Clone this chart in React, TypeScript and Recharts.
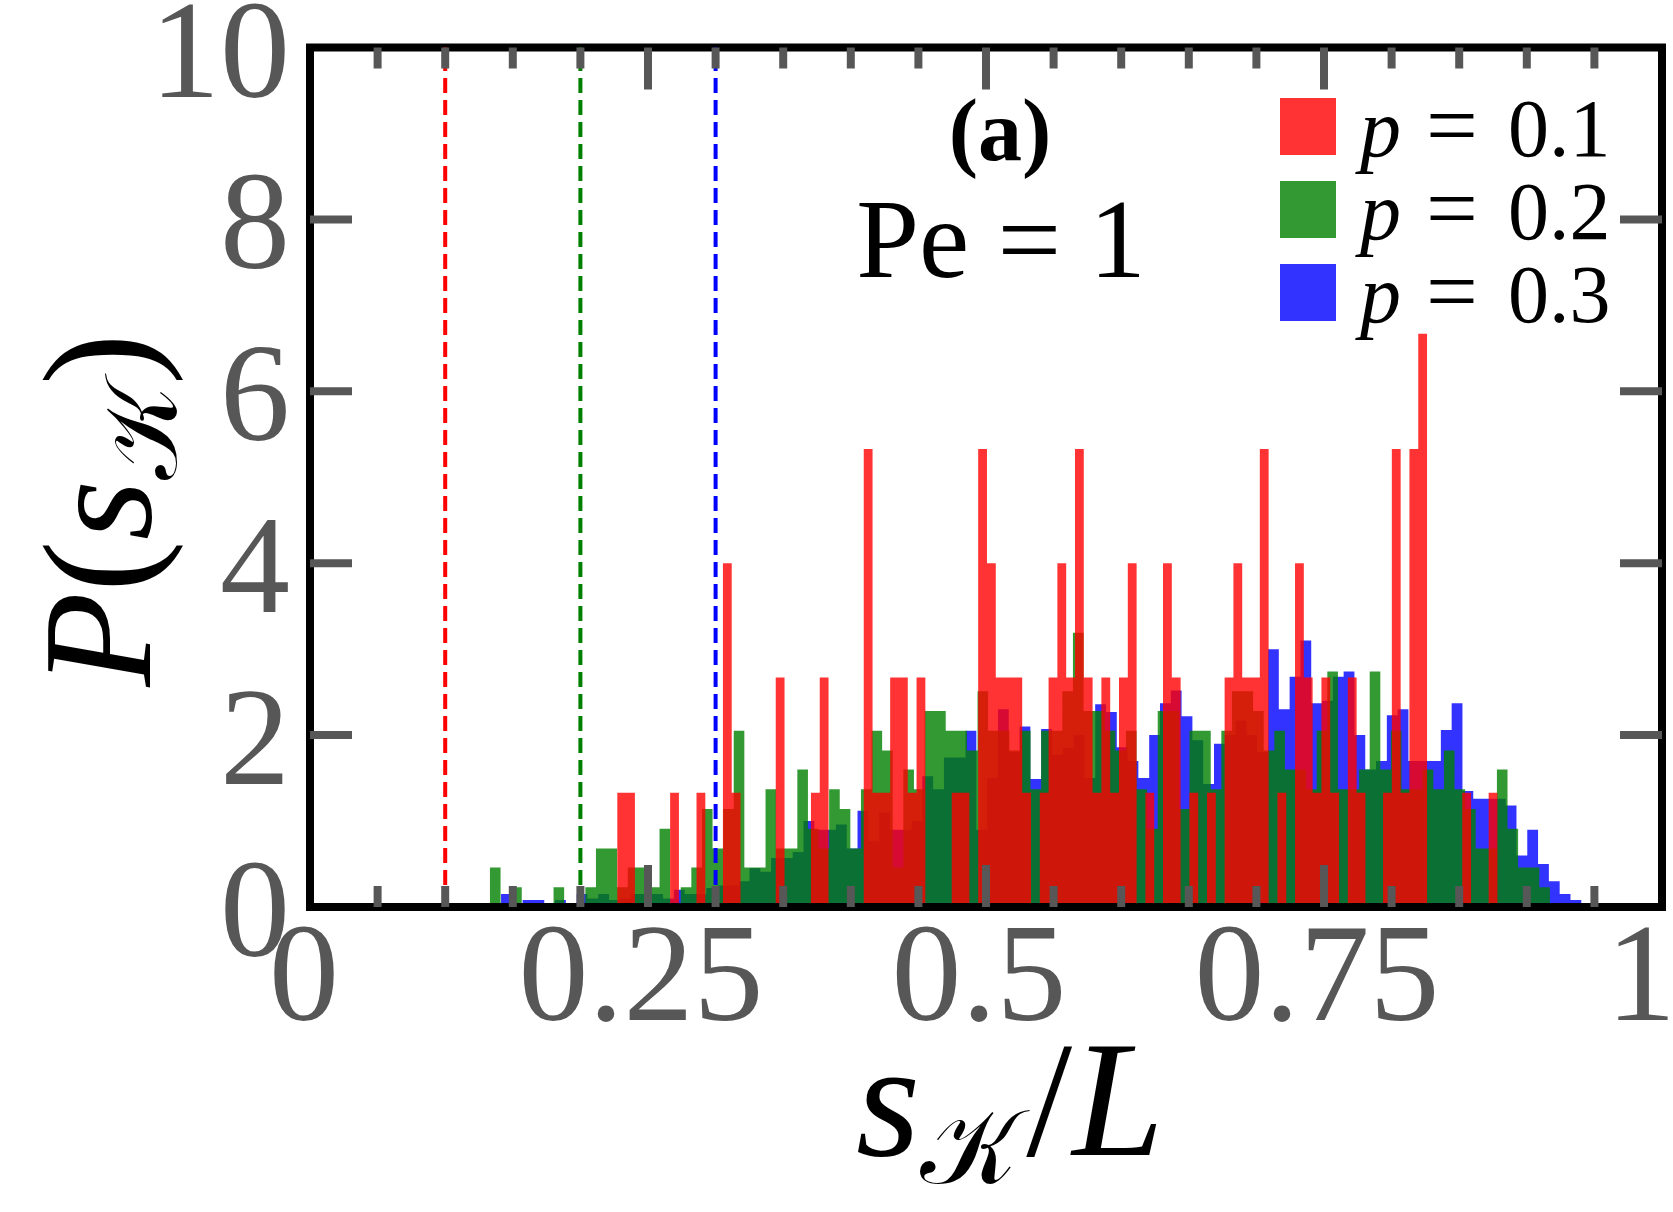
import {
  ComposedChart,
  Area,
  XAxis,
  YAxis,
  ReferenceLine,
  ReferenceArea,
  Legend,
} from "recharts";

// ---- axes -----------------------------------------------------------------
const xTicks = [
  0, 0.05, 0.1, 0.15, 0.2, 0.25, 0.3, 0.35, 0.4, 0.45, 0.5,
  0.55, 0.6, 0.65, 0.7, 0.75, 0.8, 0.85, 0.9, 0.95, 1,
];
const xMajor = [0, 0.25, 0.5, 0.75, 1];
const xLabels = ["0", "0.25", "0.5", "0.75", "1"];
const yTicks = [0, 2, 4, 6, 8, 10];
const yLabels = ["0", "2", "4", "6", "8", "10"];

// dashed markers, one per p
const thresholds = [0.1, 0.2, 0.3];
const pValues = ["0.1", "0.2", "0.3"];
const colors = ["#ff0000", "#008000", "#0000ff"];

// ---- histograms (100 bins each, own range) --------------------------------
const redStart = 0.2273;
const redBinWidth = 0.00651;
const redHeights = [
  1.33, 1.33, 0, 0, 0, 0, 1.33, 0, 0, 1.33,
  0, 0, 4, 1.33, 0, 0, 0, 0, 2.67, 0,
  0, 0, 1.33, 2.67, 0, 0, 0, 0, 5.33, 1.33,
  1.33, 2.67, 2.67, 1.33, 2.67, 0, 0, 0, 1.33, 1.33,
  0, 5.33, 4, 2.67, 2.67, 2.67, 1.33, 0, 1.33, 2.67,
  4, 2.67, 5.33, 2.67, 1.33, 2.67, 1.33, 2.67, 4, 0,
  1.33, 0, 4, 2.67, 0, 1.33, 0, 1.33, 0, 2.67,
  4, 2.67, 2.67, 5.33, 0, 1.33, 0, 4, 2.67, 1.33,
  2.67, 1.33, 0, 2.67, 1.33, 0, 0, 1.33, 5.33, 1.33,
  5.33, 6.67, 0, 0, 0, 0, 1.33, 0, 0, 1.33,
];

const greenStart = 0.1331;
const greenBinWidth = 0.00784;
const greenHeights = [
  0.46, 0, 0.23, 0, 0, 0, 0.23, 0, 0, 0.23,
  0.68, 0.68, 0.23, 0.46, 0.46, 0.23, 0.91, 0, 0.23, 0.46,
  1.14, 0.68, 1.14, 2.05, 0.46, 0.46, 1.37, 0.68, 0.68, 1.6,
  0.91, 0.68, 1.37, 1.14, 0.68, 1.37, 2.05, 1.82, 0.46, 1.6,
  1.37, 2.28, 2.28, 2.05, 2.05, 1.82, 2.51, 2.05, 2.05, 1.82,
  2.05, 1.37, 2.05, 2.05, 2.51, 3.19, 2.28, 2.28, 2.05, 1.82,
  2.05, 1.37, 0.91, 2.28, 2.28, 1.14, 2.05, 2.05, 1.37, 2.05,
  2.51, 2.51, 2.28, 1.82, 2.05, 1.6, 1.6, 1.37, 2.05, 2.74,
  1.37, 1.37, 1.6, 2.74, 1.6, 2.05, 1.37, 1.37, 1.6, 1.37,
  1.82, 1.37, 1.14, 0.68, 0.68, 1.6, 0.91, 0.46, 0.46, 0.23,
];

const blueStart = 0.1413;
const blueBinWidth = 0.00799;
const blueHeights = [
  0.15, 0, 0.08, 0.08, 0, 0.08, 0, 0.15, 0.1, 0.15,
  0.08, 0.1, 0.15, 0.15, 0.15, 0.1, 0.2, 0.15, 0.15, 0.22,
  0.25, 0.25, 0.3, 0.45, 0.41, 0.57, 0.57, 0.64, 1.0, 0.9,
  0.9, 0.96, 0.68, 1.12, 0.77, 1.1, 0.9, 0.9, 1.0, 1.52,
  1.37, 1.74, 1.74, 2.05, 0.9, 1.5, 2.3, 1.8, 2.1, 1.49,
  2.07, 1.77, 1.85, 2.0, 1.5, 2.36, 2.27, 1.86, 1.7, 1.5,
  2.0, 2.37, 2.52, 2.22, 1.94, 1.43, 1.9, 2.0, 2.17, 2.0,
  1.8, 3.0, 2.3, 2.68, 3.1, 2.37, 2.4, 2.68, 2.74, 2.0,
  1.6, 1.7, 2.23, 2.3, 1.7, 1.7, 1.7, 2.06, 2.37, 1.35,
  1.26, 1.26, 1.26, 1.18, 0.6, 0.9, 0.5, 0.3, 0.15, 0.08,
];

// ---- layout -----------------------------------------------------------------
const W = 1673;
const H = 1212;
const M = { top: 47.5, right: 11, bottom: 304, left: 309 };
const PLOT = { left: 310, right: W - M.right, top: M.top, bottom: 907 };
const SERIF = "'Liberation Serif', 'DejaVu Serif', serif";
const GREY = "#575757";
// small horizontal nudges so the glyphs sit like the LaTeX labels
const xLabelDx = [-6, -7, -7, -7, -21];

function toSteps(start: number, width: number, heights: number[]) {
  const pts = heights.map((h, i) => ({ x: start + i * width, y: h }));
  pts.push({ x: start + heights.length * width, y: 0 });
  return pts;
}

const redData = toSteps(redStart, redBinWidth, redHeights);
const greenData = toSteps(greenStart, greenBinWidth, greenHeights);
const blueData = toSteps(blueStart, blueBinWidth, blueHeights);

function XTick(props: any) {
  const { x, payload } = props;
  const v = payload.value;
  const idx = xMajor.findIndex((t) => Math.abs(t - v) < 1e-6);
  const len = idx >= 0 ? 42 : 21;
  const onSpine = v <= 0 || v >= 1;
  return (
    <g>
      {!onSpine && (
        <>
          <line x1={x} x2={x} y1={PLOT.bottom} y2={PLOT.bottom - len} stroke={GREY} strokeWidth={8} />
          <line x1={x} x2={x} y1={PLOT.top} y2={PLOT.top + len} stroke={GREY} strokeWidth={8} />
        </>
      )}
      {idx >= 0 && (
        <text
          x={x + xLabelDx[idx]}
          y={PLOT.bottom + 113}
          textAnchor="middle"
          fontSize={140}
          fontFamily={SERIF}
          fill={GREY}
        >
          {xLabels[idx]}
        </text>
      )}
    </g>
  );
}

function YTick(props: any) {
  const { y, payload } = props;
  const v = payload.value;
  const idx = yTicks.indexOf(v);
  const onSpine = v <= 0 || v >= 10;
  return (
    <g>
      {!onSpine && (
        <>
          <line x1={PLOT.left} x2={PLOT.left + 42} y1={y} y2={y} stroke={GREY} strokeWidth={8} />
          <line x1={PLOT.right} x2={PLOT.right - 42} y1={y} y2={y} stroke={GREY} strokeWidth={8} />
        </>
      )}
      <text x={PLOT.left - 20} y={y + 49} textAnchor="end" fontSize={140} fontFamily={SERIF} fill={GREY}>
        {yLabels[idx]}
      </text>
    </g>
  );
}

function LegendBox() {
  const fills = ["#ff3333", "#339933", "#3333ff"];
  return (
    <svg width={400} height={260} style={{ overflow: "visible" }}>
      {pValues.map((p, i) => (
        <g key={p}>
          <rect x={0} y={i * 83} width={56} height={57} fill={fills[i]} />
          <text y={58 + i * 83} fontSize={82} fontFamily={SERIF} fill="#000">
            <tspan x={80} fontStyle="italic">p</tspan>
            <tspan x={146} fontSize={92}>=</tspan>
            <tspan x={228}>{p}</tspan>
          </text>
        </g>
      ))}
    </svg>
  );
}

export default function App() {
  return (
    <div style={{ position: "absolute", left: 0, top: 0, width: W, height: H, background: "#fff" }}>
      <ComposedChart width={W} height={H} margin={M}>
        <XAxis
          type="number"
          dataKey="x"
          domain={[0, 1]}
          ticks={xTicks}
          interval={0}
          height={1}
          axisLine={false}
          tickLine={false}
          tickSize={0}
          tick={(p: any) => <XTick {...p} />}
          allowDataOverflow
        />
        <YAxis
          type="number"
          domain={[0, 10]}
          ticks={yTicks}
          interval={0}
          width={1}
          axisLine={false}
          tickLine={false}
          tickSize={0}
          tick={(p: any) => <YTick {...p} />}
          allowDataOverflow
        />
        <Area
          data={blueData}
          dataKey="y"
          type="stepAfter"
          stroke="none"
          fill="#0000ff"
          fillOpacity={0.8}
          dot={false}
          activeDot={false}
          isAnimationActive={false}
        />
        <Area
          data={greenData}
          dataKey="y"
          type="stepAfter"
          stroke="none"
          fill="#008000"
          fillOpacity={0.8}
          dot={false}
          activeDot={false}
          isAnimationActive={false}
        />
        <Area
          data={redData}
          dataKey="y"
          type="stepAfter"
          stroke="none"
          fill="#ff0000"
          fillOpacity={0.8}
          dot={false}
          activeDot={false}
          isAnimationActive={false}
        />
        {thresholds.map((t, i) => (
          <ReferenceLine key={t} x={t} stroke={colors[i]} strokeWidth={4} strokeDasharray="15 7" />
        ))}
        <ReferenceArea x1={0} x2={1} y1={0} y2={10} fill="none" stroke="#000" strokeWidth={8} />
        <Legend
          layout="vertical"
          align="center"
          verticalAlign="middle"
          content={() => <LegendBox />}
          wrapperStyle={{ left: 1280, top: 98, width: 400 }}
        />
        <text x={1000} y={160} textAnchor="middle" fontSize={88} fontWeight="bold" fontFamily={SERIF}>
          (a)
        </text>
        <text x={1001} y={277} textAnchor="middle" fontSize={113} fontFamily={SERIF}>
          Pe = 1
        </text>
        <text x={1010} y={1155} textAnchor="middle" fontSize={165} fontFamily={SERIF}>
          <tspan fontStyle="italic">s</tspan>
          <tspan fontSize={105} dy={28}>𝒦</tspan>
          <tspan dy={-28} dx={8}>/</tspan>
          <tspan fontStyle="italic">L</tspan>
        </text>
        <text
          x={150}
          y={510}
          transform="rotate(-90 150 510)"
          textAnchor="middle"
          fontSize={155}
          fontFamily={SERIF}
        >
          <tspan fontStyle="italic">P</tspan>
          <tspan>(</tspan>
          <tspan fontStyle="italic">s</tspan>
          <tspan fontSize={102} dy={26}>𝒦</tspan>
          <tspan dy={-26}>)</tspan>
        </text>
      </ComposedChart>
    </div>
  );
}
